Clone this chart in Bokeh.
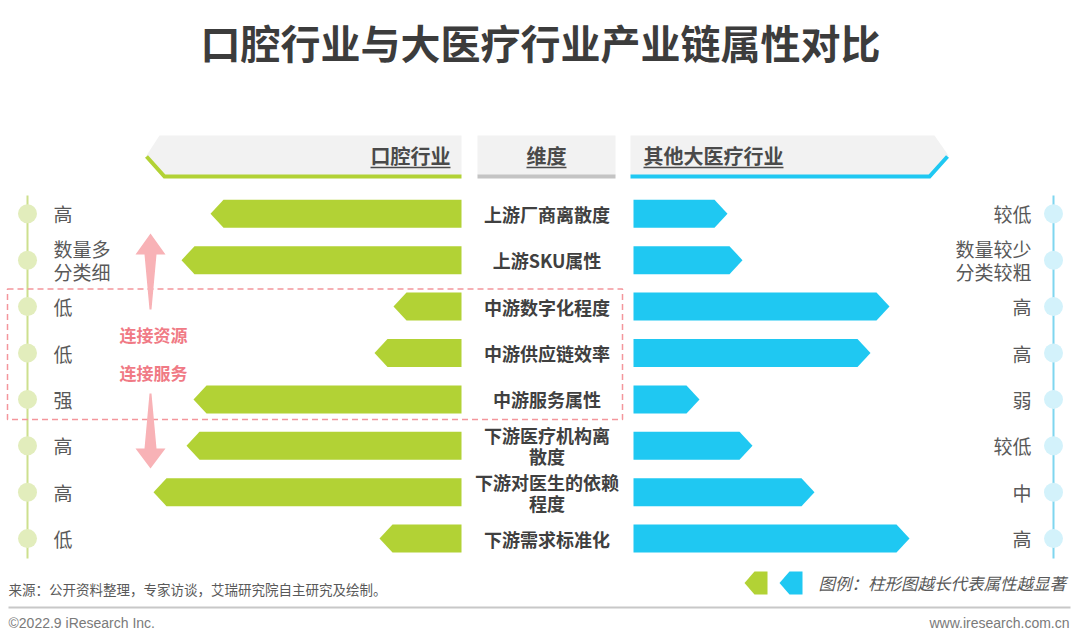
from bokeh.plotting import figure
from bokeh.models import Range1d
from bokeh.core.properties import value
from bokeh.embed import file_html
from bokeh.resources import INLINE

# ---------------- data ----------------
title = "口腔行业与大医疗行业产业链属性对比"
categories = ["上游厂商离散度", "上游SKU属性", "中游数字化程度", "中游供应链效率",
              "中游服务属性", "下游医疗机构离\n散度", "下游对医生的依赖\n程度", "下游需求标准化"]
oral_labels = ["高", "数量多\n分类细", "低", "低", "强", "高", "高", "低"]
other_labels = ["较低", "数量较少\n分类较粗", "高", "高", "弱", "较低", "中", "高"]
oral_values = [251, 280, 68, 87, 268, 275, 308, 82]     # bar length (relative units)
other_values = [94, 109, 256, 237, 66, 119, 181, 276]
headers = ["口腔行业", "维度", "其他大医疗行业"]
source = "来源：公开资料整理，专家访谈，艾瑞研究院自主研究及绘制。"
legend_text = "图例：柱形图越长代表属性越显著"
copyright_text = "©2022.9 iResearch Inc."
site_text = "www.iresearch.com.cn"

# ---------------- style / layout ----------------
CJK = value("Noto Sans CJK SC")
GREEN = "#b2d235"
CYAN = "#1fc8f2"
DARK = "#404040"
GREY = "#595959"
PINK_LINE = "#f4969c"
PINK_ARROW = "#f8b2b6"
PINK_TEXT = "#f07a85"

W, H = 1072, 635
p = figure(width=W, height=H, x_range=Range1d(0, W), y_range=Range1d(H, 0),
           output_backend="svg", toolbar_location=None, min_border=0)
p.axis.visible = False
p.grid.visible = False
p.outline_line_color = None
p.background_fill_color = "white"
p.border_fill_color = "white"

n = len(categories)
y0, step = 213.3, 46.4
ys = [y0 + i * step for i in range(n)]
hh = 14      # half bar height
tipd = 13    # arrow tip depth
LEFT_END = 461
RIGHT_START = 633


def split_lines(labels, centers, spacing):
    xs_t, ys_t = [], []
    for lab, yc in zip(labels, centers):
        parts = lab.split("\n")
        k = len(parts)
        for j, part in enumerate(parts):
            xs_t.append(part)
            ys_t.append(yc + (j - (k - 1) / 2) * spacing)
    return xs_t, ys_t


# title
p.text(x=[540], y=[41], text=[title], text_font=CJK, text_font_size="40px",
       text_font_style="bold", text_color="#3c3c3c", text_align="center",
       text_baseline="middle")

# headers
p.patches(xs=[[159, 146, 163, LEFT_END, LEFT_END], [477, 615, 615, 477],
              [RIGHT_START - 3, 934, 948, 930, RIGHT_START - 3]],
          ys=[[135, 155, 175, 175, 135], [135, 135, 175, 175],
              [135, 135, 155, 175, 175]],
          fill_color="#f2f2f2", line_color=None)
p.multi_line(xs=[[146, 164, LEFT_END], [477, 615], [RIGHT_START - 3, 929, 947]],
             ys=[[156, 176, 176], [176, 176], [176, 176, 156]],
             line_color=[GREEN, "#c4c4c4", CYAN], line_width=4, line_join="miter")
p.text(x=[450, 546, 643], y=[155, 155, 155], text=headers, text_font=CJK,
       text_font_size="20px", text_font_style="bold", text_color="#4a4a4a",
       text_align=["right", "center", "left"], text_baseline="middle")
p.segment(x0=[370, 526, 643], y0=[167] * 3, x1=[450, 566, 783], y1=[167] * 3,
          line_color="#4a4a4a", line_width=1.5)

# side timelines
p.segment(x0=[27], y0=[195], x1=[27], y1=[558], line_color="#cde08e", line_width=2)
p.segment(x0=[1053], y0=[195], x1=[1053], y1=[558], line_color="#7fd6ef", line_width=2)
p.scatter(x=[27] * n, y=ys, size=19, fill_color="#e2edbc", line_color=None)
p.scatter(x=[1053] * n, y=ys, size=19, fill_color="#d3f2fb", line_color=None)

# bars
lxs, lys, rxs, rys = [], [], [], []
for yc, lv, rv in zip(ys, oral_values, other_values):
    tip = LEFT_END - lv
    lxs.append([LEFT_END, tip + tipd, tip, tip + tipd, LEFT_END])
    lys.append([yc - hh, yc - hh, yc, yc + hh, yc + hh])
    tipr = RIGHT_START + rv
    rxs.append([RIGHT_START, tipr - tipd, tipr, tipr - tipd, RIGHT_START])
    rys.append([yc - hh, yc - hh, yc, yc + hh, yc + hh])
p.patches(xs=lxs, ys=lys, fill_color=GREEN, line_color=None)
p.patches(xs=rxs, ys=rys, fill_color=CYAN, line_color=None)

# category labels
ct, cy = split_lines(categories, ys, 21)
p.text(x=[546.5] * len(ct), y=cy, text=ct, text_font=CJK, text_font_size="18px",
       text_font_style="bold", text_color=DARK, text_align="center",
       text_baseline="middle")

# side value labels
lt, ly = split_lines(oral_labels, ys, 23)
p.text(x=[53] * len(lt), y=ly, text=lt, text_font=CJK, text_font_size="19px",
       text_color=GREY, text_align="left", text_baseline="middle")
rt, ry = split_lines(other_labels, ys, 23)
p.text(x=[1031] * len(rt), y=ry, text=rt, text_font=CJK, text_font_size="19px",
       text_color=GREY, text_align="right", text_baseline="middle")

# pink dashed box
p.quad(left=[7], right=[622], top=[288.5], bottom=[419], fill_color=None,
       line_color=PINK_LINE, line_width=1.5, line_dash="6 4")

# pink arrows
ax = 150
p.patches(xs=[[ax, ax + 15, ax + 6, ax + 1, ax - 1, ax - 6, ax - 15],
              [ax - 1, ax + 1, ax + 6, ax + 15, ax, ax - 15, ax - 6]],
          ys=[[233, 254, 254, 309, 309, 254, 254],
              [393, 393, 448, 448, 468, 448, 448]],
          fill_color=PINK_ARROW, line_color=None)
p.text(x=[153, 153], y=[334, 372], text=["连接资源", "连接服务"], text_font=CJK,
       text_font_size="17px", text_font_style="bold", text_color=PINK_TEXT,
       text_align="center", text_baseline="middle")

# footer
p.text(x=[8], y=[588], text=[source], text_font=CJK, text_font_size="13.5px",
       text_color=GREY, text_baseline="middle")
p.segment(x0=[8], y0=[607], x1=[1070], y1=[607], line_color="#c8c8c8", line_width=2)
p.text(x=[8], y=[622], text=[copyright_text], text_font=value("Liberation Sans"),
       text_font_size="14px", text_color="#7a7a7a", text_baseline="middle")
p.text(x=[1069], y=[622], text=[site_text], text_font=value("Liberation Sans"),
       text_font_size="14px", text_color="#7a7a7a", text_align="right",
       text_baseline="middle")

# legend
p.patches(xs=[[744, 754, 767, 767, 754], [779, 789, 802, 802, 789]],
          ys=[[582.5, 571, 571, 594, 594], [582.5, 571, 571, 594, 594]],
          fill_color=[GREEN, CYAN], line_color=None)
p.text(x=[818], y=[582], text=[legend_text], text_font=CJK, text_font_size="16.5px",
       text_font_style="italic", text_color=GREY, text_baseline="middle")

open("out.html", "w").write(file_html(p, INLINE))
